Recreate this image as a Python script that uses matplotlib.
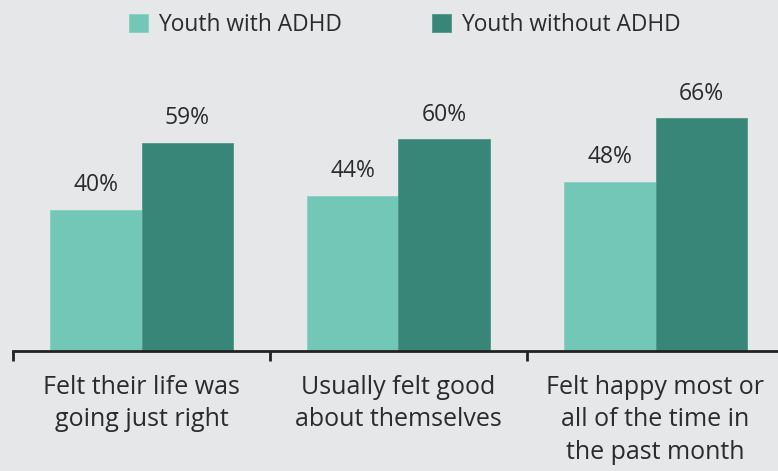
import numpy as np
import matplotlib.pyplot as plt

categories = ['Felt their life was\ngoing just right',
              'Usually felt good\nabout themselves',
              'Felt happy most or\nall of the time in\nthe past month']
with_adhd = [40, 44, 48]
without_adhd = [59, 60, 66]
series_names = ['Youth with ADHD', 'Youth without ADHD']

bg = '#e6e7e9'
light = '#72c7b7'
dark = '#378677'
txt = '#2b2b2b'

plt.rcParams['font.family'] = ['Open Sans', 'DejaVu Sans']

W, H = 778, 471
fig = plt.figure(figsize=(W / 100, H / 100), dpi=100, facecolor=bg)
# axis spans past the right edge of the picture
ax = fig.add_axes([13 / W, 120 / H, 771 / W, 282.4 / H], facecolor=bg)

x = np.arange(len(categories))
w = 0.356
b1 = ax.bar(x - w / 2, with_adhd, w, color=light, edgecolor='#86d0c2', linewidth=0.6, label=series_names[0])
b2 = ax.bar(x + w / 2, without_adhd, w, color=dark, edgecolor='#4f9687', linewidth=0.6, label=series_names[1])

for bars in (b1, b2):
    for r in bars:
        ax.annotate(f'{r.get_height():.0f}%', (r.get_x() + r.get_width() / 2, r.get_height()),
                    xytext=(0, 13.3), textcoords='offset points', ha='center', va='baseline',
                    fontsize=16.5, color=txt)

ax.set_xlim(-0.5, 2.5)
ax.set_ylim(0, 80)
for s in ['top', 'right', 'left']:
    ax.spines[s].set_visible(False)
ax.spines['bottom'].set_linewidth(2)
ax.spines['bottom'].set_color('#222222')
ax.set_yticks([])
ax.set_xticks([-0.5, 0.5, 1.5, 2.5])
ax.set_xticklabels([])
ax.tick_params(axis='x', length=7, width=2, color='#222222')

for i, c in enumerate(categories):
    ax.annotate(c, (i, 0), xytext=(0, -17.4), textcoords='offset points', ha='center', va='top',
                fontsize=18, color=txt, linespacing=1.38, annotation_clip=False)

leg = fig.legend(handles=[b1, b2], loc='center', bbox_to_anchor=(405 / W, 1 - 25 / H), ncol=2,
                 frameon=False, fontsize=16.4, handlelength=0.83, handleheight=0.83,
                 handletextpad=0.44, columnspacing=3.95, labelcolor=txt, borderpad=0.2)

fig.savefig('out.png', dpi=100, facecolor=bg)
